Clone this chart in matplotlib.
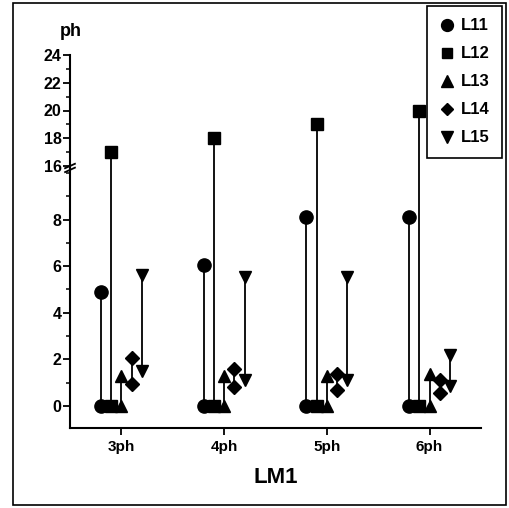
import matplotlib
matplotlib.use("Agg")
import matplotlib.pyplot as plt
from matplotlib.lines import Line2D
from matplotlib.patches import Rectangle
from matplotlib.ticker import MultipleLocator

plt.rcParams['font.family'] = ['Liberation Sans', 'DejaVu Sans']
plt.rcParams['font.weight'] = 'bold'

# Data
categories = ["3ph", "4ph", "5ph", "6ph"]
series = ["L11", "L12", "L13", "L14", "L15"]
markers = ["o", "s", "^", "D", "v"]
offsets = [-0.2, -0.1, 0.0, 0.1, 0.2]

lows = {
    "L11": [0, 0, 0, 0],
    "L12": [0, 0, 0, 0],
    "L13": [0, 0, 0, 0],
    "L14": [0.95, 0.8, 0.7, 0.55],
    "L15": [1.5, 1.1, 1.1, 0.85],
}
highs = {
    "L11": [4.9, 6.05, 8.1, 8.1],
    "L12": [17, 18, 19, 20],
    "L13": [1.3, 1.3, 1.3, 1.35],
    "L14": [2.05, 1.6, 1.35, 1.1],
    "L15": [5.6, 5.55, 5.55, 2.2],
}
msizes = {"o": 9.5, "s": 8.5, "^": 9, "D": 7, "v": 9}

fig = plt.figure(figsize=(5.10, 5.08), dpi=100)
left, width = 70 / 510, 411 / 510
ax_lo = fig.add_axes([left, (508 - 428) / 508, width, 262 / 508])
ax_hi = fig.add_axes([left, (508 - 166) / 508, width, 111 / 508])

for ax in (ax_lo, ax_hi):
    for i, name in enumerate(series):
        m = markers[i]
        for j in range(len(categories)):
            x = j + offsets[i]
            lo, hi = lows[name][j], highs[name][j]
            ax.plot([x, x], [lo, hi], color="black", lw=1.3, zorder=2)
            ax.plot([x, x], [lo, hi], linestyle="none", marker=m,
                    ms=msizes[m], color="black", zorder=3)
    ax.set_xlim(-0.5, 3.5)
    ax.spines["top"].set_visible(False)
    ax.spines["right"].set_visible(False)
    ax.spines["left"].set_linewidth(1.5)
    ax.tick_params(axis="y", which="major", length=5, width=1.3, labelsize=11.5, pad=1)
    ax.tick_params(axis="y", which="minor", length=3, width=1.1)
    ax.yaxis.set_minor_locator(MultipleLocator(1))
    ax.patch.set_visible(False)

ax_lo.set_ylim(-0.95, 10.3)
ax_lo.set_yticks([0, 2, 4, 6, 8])
ax_lo.set_xticks(range(len(categories)))
ax_lo.set_xticklabels(categories)
ax_lo.spines["bottom"].set_linewidth(1.5)
ax_lo.tick_params(axis="x", length=5, width=1.3, labelsize=11, pad=4)
ax_lo.set_xlabel("LM1", fontsize=16, fontweight="bold", labelpad=9)

ax_hi.set_ylim(16, 24)
ax_hi.set_yticks([16, 18, 20, 22, 24])
ax_hi.spines["bottom"].set_visible(False)
ax_hi.set_xticks([])

# break marks on the axis
for dy in (-0.035, 0.0):
    ax_hi.plot([-0.012, 0.012], [dy - 0.02, dy + 0.02], transform=ax_hi.transAxes,
               color="black", lw=1.3, clip_on=False)

fig.text(71 / 510, 1 - 31 / 508, "ph", fontsize=13, fontweight="bold",
         ha="center", va="center")

handles = [Line2D([], [], linestyle="none", marker=markers[i], color="black",
                  ms=msizes[markers[i]] * 0.9) for i in range(len(series))]
leg = fig.legend(handles, series, loc="upper right",
                 bbox_to_anchor=(502 / 510, 1 - 6 / 508), fancybox=False,
                 framealpha=1, edgecolor="black", fontsize=12,
                 labelspacing=0.78, handletextpad=0.4, borderpad=0.75,
                 handlelength=0.9, borderaxespad=0)
leg.get_frame().set_linewidth(1.2)
leg.set_zorder(10)

fig.patches.append(Rectangle((13 / 510, 3 / 508), 493 / 510, 502 / 508,
                             transform=fig.transFigure, fill=False,
                             edgecolor="black", lw=1.2))

fig.savefig("out.png", dpi=100)
